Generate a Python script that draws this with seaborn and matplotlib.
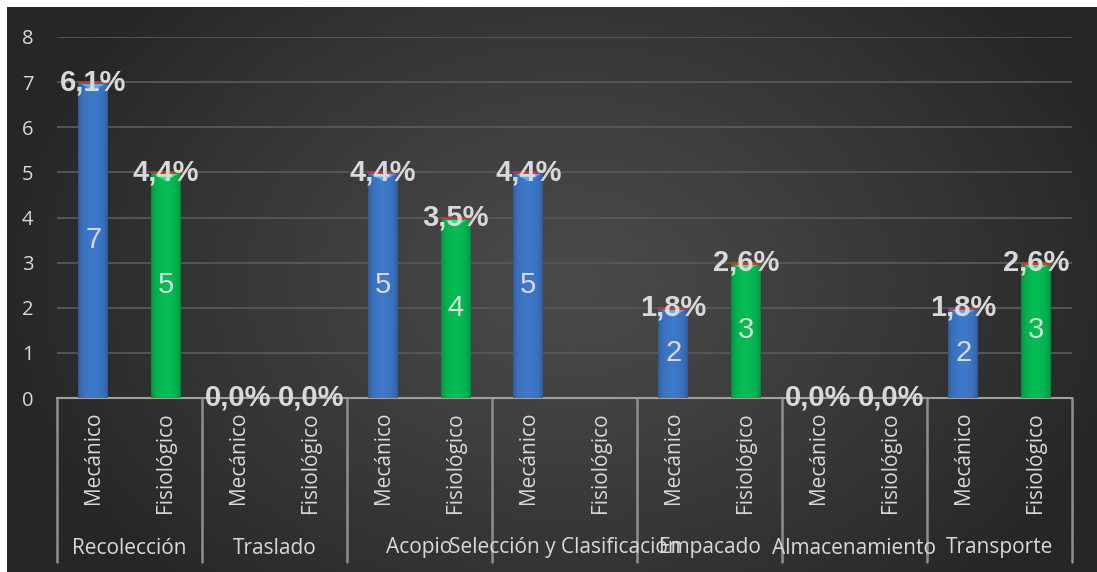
import numpy as np
import pandas as pd
import matplotlib
matplotlib.use("Agg")
import matplotlib.pyplot as plt
import matplotlib.transforms as mtransforms
from matplotlib.patches import Polygon
import seaborn as sns

# ---- data ----
etapas = ["Recolección", "Traslado", "Acopio", "Selección y Clasificación",
          "Empacado", "Almacenamiento", "Transporte"]
tipos = ["Mecánico", "Fisiológico"]
mecanico = [7, 0, 5, 5, 2, 0, 2]
fisiologico = [5, 0, 4, np.nan, 3, 0, 3]
pct_mecanico = ["6,1%", "0,0%", "4,4%", "4,4%", "1,8%", "0,0%", "1,8%"]
pct_fisiologico = ["4,4%", "0,0%", "3,5%", None, "2,6%", "0,0%", "2,6%"]
y_ticks = [0, 1, 2, 3, 4, 5, 6, 7, 8]

rows = []
for i, etapa in enumerate(etapas):
    rows.append((etapa, "Mecánico", f"{etapa}|Mecánico", mecanico[i], pct_mecanico[i]))
    rows.append((etapa, "Fisiológico", f"{etapa}|Fisiológico", fisiologico[i], pct_fisiologico[i]))
df = pd.DataFrame(rows, columns=["etapa", "tipo", "slot", "valor", "pct"])
slots = list(df["slot"])

# ---- style ----
sns.set_theme(style="dark")
plt.rcParams["font.family"] = ["Open Sans", "DejaVu Sans"]
TXT = "#d9d9d9"
colores = {"Mecánico": "#3d76c6", "Fisiológico": "#05b852"}

W, H = 1097, 572
fig = plt.figure(figsize=(W / 100, H / 100), dpi=100, facecolor="white")

# background panel with soft radial shading
bg = fig.add_axes([0, 0, 1, 1], zorder=-10)
bg.set_xlim(0, W)
bg.set_ylim(0, H)
bg.axis("off")
xs = np.linspace(7, W, 400)
ys = np.linspace(0, H - 7, 220)
XX, YY = np.meshgrid(xs, ys)
r = np.sqrt(((XX - 570) / 580) ** 2 + ((YY - 290) / 430) ** 2)
r = np.clip(r, 0, 1) ** 1.2
lum = (74 - 36 * r) / 255.0
bg.imshow(np.dstack([lum, lum, lum]), extent=[7, W, 0, H - 7], origin="lower",
          aspect="auto", interpolation="bilinear")

# main plotting area
x0p, x1p, y0p, y1p = 57, 1072, 398, 37
ax = fig.add_axes([x0p / W, 1 - y0p / H, (x1p - x0p) / W, (y0p - y1p) / H])
ax.set_facecolor("none")

sns.barplot(data=df, x="slot", y="valor", hue="tipo", order=slots, hue_order=tipos,
            palette=colores, dodge=False, width=0.41, saturation=1, legend=False,
            errorbar=None, linewidth=0, ax=ax, zorder=3)

ax.set_xlim(-0.5, len(slots) - 0.5)
ax.set_ylim(0, 8)
ax.set_yticks(y_ticks)
ax.set_xticks([])
ax.set_xlabel("")
ax.set_ylabel("")
ax.yaxis.grid(True, color="#585858", lw=1.3)
ax.xaxis.grid(False)
ax.set_axisbelow(True)
for s in ["left", "right", "top"]:
    ax.spines[s].set_visible(False)
ax.spines["bottom"].set_color("#a0a0a0")
ax.spines["bottom"].set_linewidth(1.5)
ax.spines["bottom"].set_zorder(2)
ax.tick_params(axis="y", length=0, pad=17, labelcolor=TXT, labelsize=14.5)

# shaded, bevelled bars
t = np.linspace(0, 1, 64)
shade = 0.72 + 0.3 * np.sin(np.pi * t) ** 0.4
for p in list(ax.patches):
    h = p.get_height()
    if not np.isfinite(h) or h <= 0:
        continue
    bx, bw = p.get_x(), p.get_width()
    base = np.array(p.get_facecolor()[:3])
    img = np.clip(base[None, None, :] * shade[None, :, None], 0, 1)
    im = ax.imshow(img, extent=[bx, bx + bw, 0, h], aspect="auto",
                   interpolation="bilinear", zorder=3.5)
    im.set_clip_path(p)
    light = np.clip(base * 1.3 + 0.1, 0, 1)
    ax.add_patch(Polygon([[bx, h], [bx + bw, h], [bx + bw / 2, h - 0.2]],
                         closed=True, color=light, alpha=0.8, zorder=3.6, lw=0))
    ax.plot([bx, bx + bw], [h, h], color="#c0392b", lw=2, solid_capstyle="butt",
            zorder=3.7)
ax.set_xlim(-0.5, len(slots) - 0.5)
ax.set_ylim(0, 8)

# value labels
for i, rw in df.iterrows():
    v = rw["valor"]
    if rw["pct"] is not None:
        ax.text(i, v, rw["pct"], ha="center", va="center", color=TXT, fontsize=21,
                fontweight="bold", family="Liberation Sans", zorder=6)
    if np.isfinite(v) and v > 0:
        ax.text(i, v / 2, f"{int(v)}", ha="center", va="center", color=TXT,
                fontsize=21, family="Liberation Sans", zorder=6)

# two-level category axis
px = 1.0 / (y0p - y1p)
tr = mtransforms.blended_transform_factory(ax.transData, ax.transAxes)
for i, rw in df.iterrows():
    ax.text(i, -14 * px, rw["tipo"], rotation=90, ha="center", va="top",
            color=TXT, fontsize=15, transform=tr, clip_on=False)
for g, etapa in enumerate(etapas):
    ax.text(2 * g + 0.5, -150 * px, etapa, ha="center", va="center",
            color=TXT, fontsize=15, transform=tr, clip_on=False)
for g in range(len(etapas) + 1):
    ax.plot([2 * g - 0.5, 2 * g - 0.5], [0, -164 * px], color="#8f8f8f", lw=1.8,
            transform=tr, clip_on=False, zorder=2)

fig.savefig("out.png", dpi=100, facecolor="white")
